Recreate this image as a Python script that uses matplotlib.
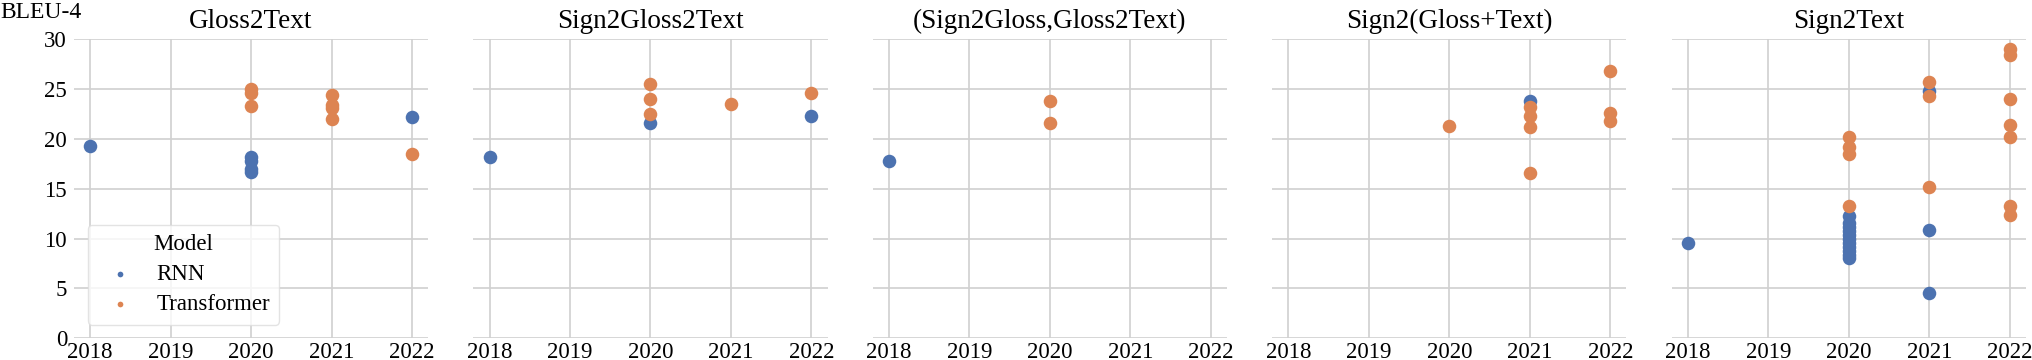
import matplotlib
matplotlib.use("Agg")
import matplotlib.pyplot as plt
import pandas as pd

# ---- data ----
tasks = ['Gloss2Text', 'Sign2Gloss2Text', '(Sign2Gloss,Gloss2Text)',
         'Sign2(Gloss+Text)', 'Sign2Text']
models = ['RNN', 'Transformer']
years = [2018, 2019, 2020, 2021, 2022]

task = (['Gloss2Text'] * 14 + ['Sign2Gloss2Text'] * 8
        + ['(Sign2Gloss,Gloss2Text)'] * 3 + ['Sign2(Gloss+Text)'] * 9
        + ['Sign2Text'] * 29)
year = ([2018, 2020, 2020, 2020, 2020, 2020, 2020, 2020, 2021, 2021, 2021, 2021, 2022, 2022]
        + [2018, 2020, 2020, 2020, 2020, 2021, 2022, 2022]
        + [2018, 2020, 2020]
        + [2020, 2021, 2021, 2021, 2021, 2021, 2022, 2022, 2022]
        + [2018, 2020, 2020, 2020, 2020, 2020, 2020, 2020, 2020, 2020, 2020, 2020,
           2020, 2020, 2020, 2020, 2021, 2021, 2021, 2021, 2021, 2021,
           2022, 2022, 2022, 2022, 2022, 2022, 2022])
model = (['RNN', 'RNN', 'RNN', 'RNN', 'RNN', 'Transformer', 'Transformer', 'Transformer',
          'Transformer', 'Transformer', 'Transformer', 'Transformer', 'RNN', 'Transformer']
         + ['RNN', 'RNN', 'Transformer', 'Transformer', 'Transformer', 'Transformer',
            'RNN', 'Transformer']
         + ['RNN', 'Transformer', 'Transformer']
         + ['Transformer', 'RNN', 'Transformer', 'Transformer', 'Transformer', 'Transformer',
            'Transformer', 'Transformer', 'Transformer']
         + ['RNN'] + ['RNN'] * 11 + ['Transformer'] * 4
         + ['RNN', 'RNN', 'RNN', 'Transformer', 'Transformer', 'Transformer']
         + ['Transformer'] * 7)
bleu = ([19.3, 18.2, 17.8, 17.0, 16.7, 25.0, 24.6, 23.3, 24.4, 23.4, 23.1, 22.0, 22.2, 18.5]
        + [18.2, 21.6, 25.5, 24.0, 22.5, 23.5, 22.3, 24.6]
        + [17.8, 23.8, 21.6]
        + [21.3, 23.8, 23.2, 22.3, 21.2, 16.6, 26.8, 22.6, 21.8]
        + [9.6, 12.3, 11.6, 11.2, 10.8, 10.4, 10.0, 9.6, 9.2, 8.8, 8.4, 8.1,
           20.2, 19.2, 18.5, 13.3, 24.8, 10.9, 4.5, 25.7, 24.3, 15.2,
           29.0, 28.4, 24.0, 21.4, 20.2, 13.3, 12.4])

df = pd.DataFrame({'task': task, 'year': year, 'model': model, 'bleu': bleu})

colors = {'RNN': '#4C72B0', 'Transformer': '#DD8452'}

plt.rcParams['font.family'] = ['Liberation Serif', 'DejaVu Serif']

fig, axes = plt.subplots(1, 5, figsize=(20.32, 3.6), dpi=100, sharey=True)
fig.subplots_adjust(left=0.0364, right=0.997, bottom=0.0603, top=0.891, wspace=0.128)

for ax, t in zip(axes, tasks):
    sub = df[df['task'] == t]
    for m in models:
        d = sub[sub['model'] == m]
        ax.scatter(d['year'], d['bleu'], s=95, color=colors[m], linewidths=0,
                   label=m, zorder=3)
    ax.set_title(t, fontsize=19.5, pad=8)
    ax.set_xlim(2017.8, 2022.2)
    ax.set_ylim(0, 30)
    ax.set_xticks(years)
    ax.set_yticks([0, 5, 10, 15, 20, 25, 30])
    ax.grid(True, color='#d0d0d0', linewidth=1.2, zorder=0)
    ax.set_axisbelow(True)
    for s in ax.spines.values():
        s.set_visible(False)
    ax.tick_params(length=0, labelsize=16.5, pad=3)

axes[0].tick_params(axis='y', pad=5)
fig.text(0.0, 0.995, 'BLEU-4', fontsize=17, ha='left', va='top')

leg = axes[0].legend(title='Model', loc='lower left', fontsize=16.5, title_fontsize=16.5,
                     markerscale=0.42, handletextpad=0.6, borderpad=0.4,
                     labelspacing=0.4, frameon=True, borderaxespad=0.6)
leg.get_frame().set_edgecolor('#dddddd')

fig.savefig('out.png', dpi=100)
